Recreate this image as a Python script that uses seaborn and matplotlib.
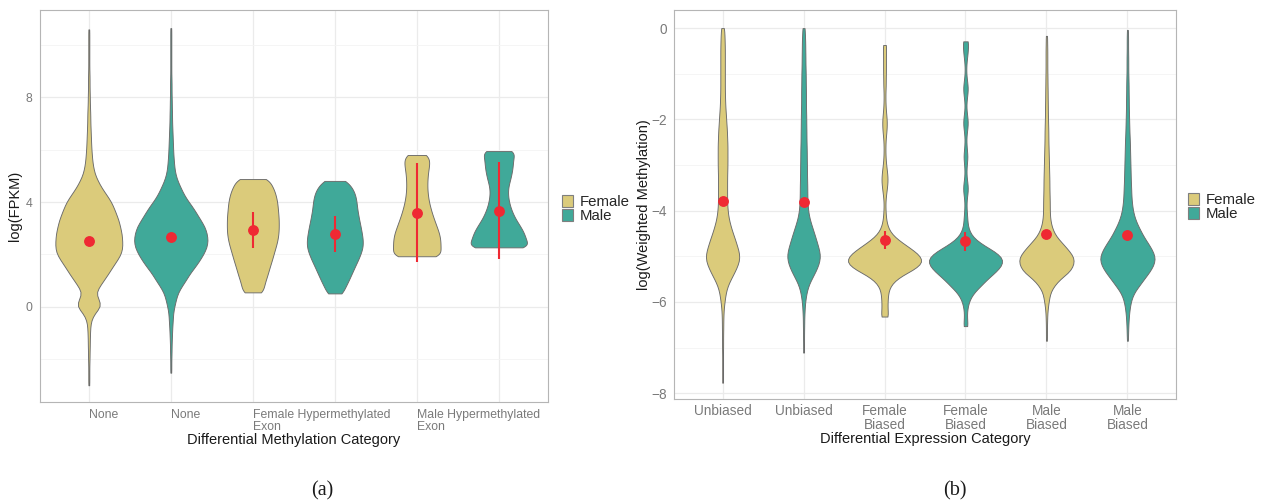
import numpy as np
import matplotlib
matplotlib.use("Agg")
import matplotlib.pyplot as plt
from matplotlib.patches import Patch
from matplotlib.ticker import MultipleLocator
import seaborn as sns

# ---------------------------------------------------------------- data
SEX = ["Female", "Male", "Female", "Male", "Female", "Male"]

# (a) expression by differential methylation category
METH_LABELS = ["None", "None", "Female Hypermethylated\nExon", "",
               "Male Hypermethylated\nExon", ""]
# each violin: (lowest value, highest value, gene counts in evenly spaced bins)
METH_F_NONE = (-3.0, 10.6, [2, 2, 2, 2, 3, 3, 4, 4, 5, 6, 10, 24, 50, 40, 26, 42,
                            60, 78, 94, 112, 128, 133, 132, 130, 124, 118, 108, 98,
                            86, 68, 50, 36, 24, 18, 14, 12, 10, 9, 8, 7, 6, 6, 5, 4,
                            4, 3, 3, 3, 2, 2, 2, 2, 2, 2, 2])
METH_M_NONE = (-2.52, 10.65, [2, 2, 2, 3, 3, 4, 5, 6, 8, 9, 14, 20, 27, 42, 60, 75,
                              96, 114, 130, 142, 146, 142, 134, 118, 102, 86, 66, 50,
                              38, 26, 18, 14, 12, 10, 9, 8, 7, 6, 5, 5, 4, 4, 3, 3, 3,
                              2, 2, 2, 2, 2, 2, 2, 2])
METH_F_FHE = (0.55, 4.88, [42, 44, 50, 58, 64, 71, 78, 84, 91, 97, 101, 103, 103,
                           103, 101, 99, 97, 92, 86, 74, 66])
METH_M_FHE = (0.51, 4.81, [32, 40, 52, 62, 72, 82, 93, 102, 110, 112, 110, 106, 102,
                           97, 93, 89, 87, 84, 78, 66, 48])
METH_F_MHE = (1.93, 5.80, [100, 92, 93, 92, 88, 80, 72, 64, 57, 51, 46, 43, 41, 41,
                           42, 44, 48, 50, 46])
METH_M_MHE = (2.27, 5.95, [134, 110, 106, 96, 82, 67, 56, 47, 41, 37, 36, 39, 46, 51,
                           55, 57, 58, 71])
METH_VIOLINS = [METH_F_NONE, METH_M_NONE, METH_F_FHE, METH_M_FHE, METH_F_MHE, METH_M_MHE]
METH_MEAN = [2.50, 2.68, 2.92, 2.78, 3.60, 3.67]
METH_LOW = [2.45, 2.63, 2.23, 2.08, 1.72, 1.81]
METH_HIGH = [2.55, 2.73, 3.63, 3.48, 5.48, 5.53]

# (b) methylation by differential expression category
EXPR_LABELS = ["Unbiased", "Unbiased", "Female\nBiased", "Female\nBiased",
               "Male\nBiased", "Male\nBiased"]
EXPR_F_UNB = (-7.77, 0.0, [2, 2, 2, 2, 2, 3, 3, 3, 4, 4, 5, 7, 12, 17, 26, 43, 64, 83,
                           97, 96, 84, 72, 58, 46, 36, 30, 27, 26, 26, 26, 26, 27, 28,
                           28, 28, 28, 26, 25, 22, 20, 17, 15, 14, 13, 13, 13, 13, 13,
                           13, 13, 12, 11, 9])
EXPR_M_UNB = (-7.11, 0.0, [2, 2, 3, 3, 4, 4, 6, 8, 13, 20, 33, 54, 75, 91, 98, 90, 78,
                           66, 53, 40, 30, 25, 23, 22, 22, 21, 20, 20, 19, 19, 18, 17,
                           17, 16, 16, 15, 14, 14, 14, 13, 13, 12, 11, 11, 10, 10, 8, 7])
EXPR_F_FB = (-6.32, -0.37, [22, 17, 17, 19, 24, 45, 93, 171, 218, 201, 150, 93, 45, 21,
                            11, 7, 5, 5, 9, 14, 18, 16, 11, 7, 5, 5, 6, 10, 13, 13, 9,
                            6, 5, 5, 7, 7, 8, 8, 8, 8, 10])
EXPR_M_FB = (-6.53, -0.29, [13, 9, 8, 13, 24, 48, 87, 123, 168, 204, 210, 165, 96, 45,
                            21, 12, 10, 7, 5, 8, 14, 12, 6, 5, 8, 12, 8, 5, 5, 10, 14,
                            10, 5, 5, 10, 14, 10, 5, 4, 6, 11, 14, 16])
EXPR_F_MB = (-6.85, -0.17, [3, 3, 3, 4, 5, 9, 15, 22, 45, 81, 135, 156, 159, 129, 94,
                            57, 36, 25, 20, 19, 19, 18, 17, 17, 16, 15, 14, 13, 12, 11,
                            11, 10, 9, 8, 8, 7, 7, 6, 6, 5, 5, 5, 5, 4, 4])
EXPR_M_MB = (-6.85, -0.04, [3, 4, 5, 7, 10, 15, 23, 39, 69, 98, 129, 153, 162, 147, 123,
                            96, 75, 55, 40, 31, 26, 23, 22, 20, 19, 18, 17, 16, 15, 14,
                            12, 11, 10, 9, 8, 8, 7, 7, 6, 5, 5, 5, 4, 4, 4, 3])
EXPR_VIOLINS = [EXPR_F_UNB, EXPR_M_UNB, EXPR_F_FB, EXPR_M_FB, EXPR_F_MB, EXPR_M_MB]
EXPR_MEAN = [-3.79, -3.80, -4.64, -4.67, -4.51, -4.53]
EXPR_LOW = [-3.82, -3.83, -4.85, -4.89, -4.55, -4.57]
EXPR_HIGH = [-3.76, -3.77, -4.45, -4.47, -4.47, -4.49]

# ---------------------------------------------------------------- style
FILL = {"Female": "#DBCB7B", "Male": "#40A999"}
EDGE = "#6A6A6A"
RED = "#EF2933"
TICK_GRAY = "#7A7A7A"

sns.set_style("white")
plt.rcParams["font.family"] = ["Liberation Sans", "DejaVu Sans"]


def draw_panel(ax, violins, widths, sigma, means, lows, highs, labels,
               ylim, major, minor, xlabel, ylabel, label_ha,
               tick_size, line_gap, tick_pad, xpad, ypad):
    keys = [f"c{i}" for i in range(len(violins))]
    for key, (lo, hi, counts), sex, w in zip(keys, violins, SEX, widths):
        vals = np.repeat(np.linspace(lo, hi, len(counts)), counts)
        sns.violinplot(x=[key] * len(vals), y=vals, order=keys, color=FILL[sex],
                       width=w, density_norm="width", cut=0, inner=None,
                       linewidth=0.65, linecolor=EDGE, saturation=1,
                       bw_method=sigma / vals.std(), ax=ax, zorder=2)
    means = np.asarray(means)
    ax.errorbar(np.arange(len(means)), means,
                yerr=[means - np.asarray(lows), np.asarray(highs) - means],
                fmt="o", color=RED, ms=6.8, elinewidth=1.5, capsize=0, zorder=5)

    ax.set_xlim(-0.6, len(violins) - 0.4)
    ax.set_ylim(*ylim)
    ax.set_xticks(np.arange(len(labels)))
    ax.set_xticklabels(labels, ha=label_ha, color=TICK_GRAY, fontsize=tick_size,
                       linespacing=line_gap)
    ax.yaxis.set_major_locator(MultipleLocator(major))
    ax.yaxis.set_minor_locator(MultipleLocator(minor))
    ax.tick_params(axis="y", labelsize=tick_size, labelcolor=TICK_GRAY, length=3,
                   width=0.6, color="#4D4D4D", pad=2)
    ax.tick_params(axis="x", length=3, width=0.6, color="#4D4D4D", pad=tick_pad)
    ax.tick_params(which="minor", length=0)
    ax.grid(True, which="major", color="#EBEBEB", lw=0.9, zorder=0)
    ax.grid(True, which="minor", axis="y", color="#F4F4F4", lw=0.6, zorder=0)
    ax.set_axisbelow(True)
    for sp in ax.spines.values():
        sp.set_color("#B5B5B5")
        sp.set_linewidth(0.8)
    ax.set_xlabel(xlabel, fontsize=10.5, color="#1A1A1A", labelpad=xpad)
    ax.set_ylabel(ylabel, fontsize=10.5, color="#1A1A1A", labelpad=ypad)


W, H = 1261, 504
fig = plt.figure(figsize=(W / 100, H / 100), dpi=100)
fig.patch.set_facecolor("white")

ax_a = fig.add_axes([39.6 / W, 1 - 402 / H, (548 - 39.6) / W, (402 - 10.3) / H])
ax_b = fig.add_axes([674 / W, 1 - 398.7 / H, (1176 - 674) / W, (398.7 - 10.3) / H])

draw_panel(ax_a, METH_VIOLINS, [0.816, 0.894, 0.633, 0.682, 0.58, 0.686], 0.17,
           METH_MEAN, METH_LOW, METH_HIGH, METH_LABELS, (-3.64, 11.33), 4, 2,
           "Differential Methylation Category", "log(FPKM)", "left",
           8.8, 1.0, 2, 0, 3)
draw_panel(ax_b, EXPR_VIOLINS, [0.41, 0.40, 0.90, 0.90, 0.67, 0.67], 0.10,
           EXPR_MEAN, EXPR_LOW, EXPR_HIGH, EXPR_LABELS, (-8.12, 0.39), 2, 1,
           "Differential Expression Category", "log(Weighted Methylation)", "center",
           9.8, 1.02, 0.5, 0.5, 0)

# legends
handles = [Patch(facecolor=FILL[s], edgecolor="#7F7F7F", lw=0.8) for s in ("Female", "Male")]
for x_key, y_mid in ((562, 209), (1188, 207)):
    fig.legend(handles, ["Female", "Male"], loc="center left",
               bbox_to_anchor=(x_key / W, 1 - y_mid / H), frameon=False,
               fontsize=10.8, handlelength=0.75, handleheight=0.9,
               handletextpad=0.45, labelspacing=0.0, borderpad=0, borderaxespad=0)

# sub-figure captions
for x_c, txt in ((322, "(a)"), (955, "(b)")):
    fig.text(x_c / W, 1 - 491 / H, txt, ha="center", va="center", fontsize=14.5,
             family="Liberation Serif", color="#1A1A1A")

fig.savefig("out.png", dpi=100, facecolor="white")
